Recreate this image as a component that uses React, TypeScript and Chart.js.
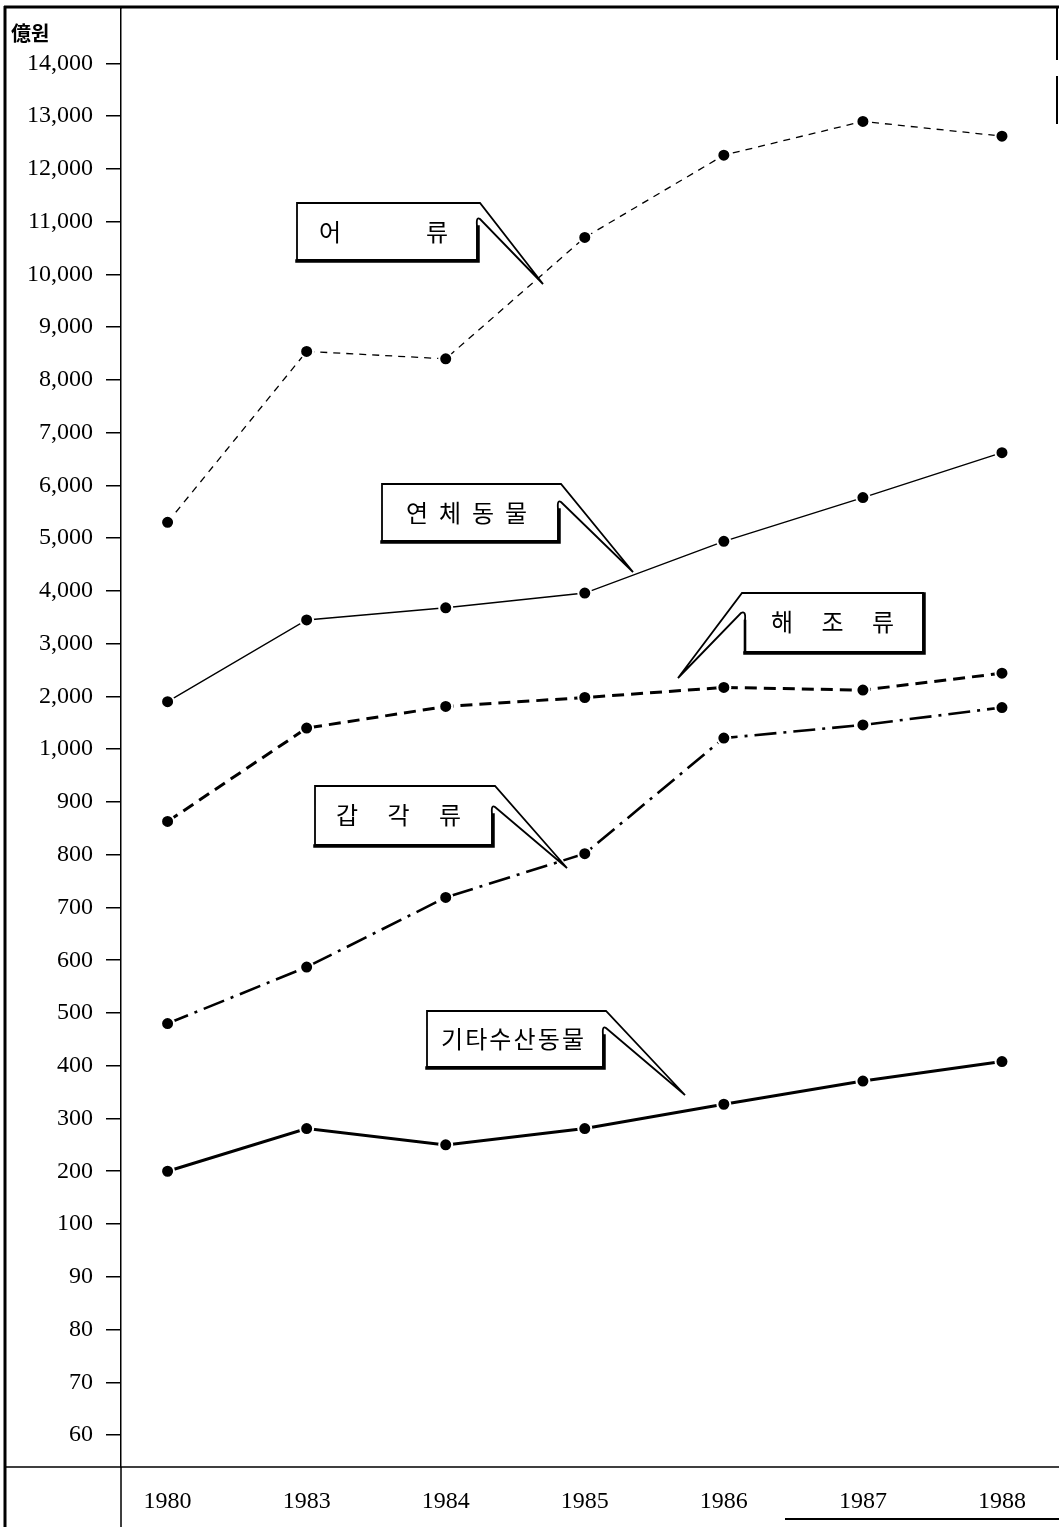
import React, { useEffect, useRef } from 'react';
import { Chart, registerables } from 'chart.js';

Chart.register(...registerables);

// ---- data ----
const years = ['1980', '1983', '1984', '1985', '1986', '1987', '1988'];

const yTickValues = [
  60, 70, 80, 90, 100, 200, 300, 400, 500, 600, 700, 800, 900,
  1000, 2000, 3000, 4000, 5000, 6000, 7000, 8000, 9000, 10000, 11000, 12000, 13000, 14000,
];
const yTickLabels = [
  '60', '70', '80', '90', '100', '200', '300', '400', '500', '600', '700', '800', '900',
  '1,000', '2,000', '3,000', '4,000', '5,000', '6,000', '7,000', '8,000', '9,000',
  '10,000', '11,000', '12,000', '13,000', '14,000',
];

// 億원
const fish = [5300, 8540, 8400, 10700, 12260, 12900, 12620]; // 어류
const mollusks = [1900, 3450, 3680, 3960, 4940, 5770, 6620]; // 연체동물
const seaweed = [863, 1400, 1810, 1980, 2170, 2120, 2440]; // 해조류
const crustaceans = [480, 587, 719, 802, 1210, 1460, 1790]; // 갑각류
const others = [200, 281, 250, 281, 327, 371, 408]; // 기타수산동물

const seriesNames = ['어류', '연체동물', '해조류', '갑각류', '기타수산동물'];
const unitLabel = '億원';

// ---- broken (piecewise) value axis: value -> tick index position ----
function toPos(v: number): number {
  const t = yTickValues;
  if (v <= t[0]) return (v - t[0]) / (t[1] - t[0]);
  for (let i = 0; i < t.length - 1; i++) {
    if (v >= t[i] && v <= t[i + 1]) return i + (v - t[i]) / (t[i + 1] - t[i]);
  }
  const n = t.length - 1;
  return n + (v - t[n]) / (t[n] - t[n - 1]);
}

// ---- callout annotations (layout, in canvas pixels) ----
type Callout = {
  chars: string[];
  firstX: number; lastX: number; textY: number;
  L: number; T: number; R: number; B: number;
  tip: [number, number]; inner: [number, number];
  side: 'left' | 'right';
};
const callouts: Callout[] = [
  { chars: ['어', '류'], firstX: 330, lastX: 437, textY: 232, L: 297, T: 203, R: 477, B: 260, tip: [543, 284], inner: [480, 219], side: 'right' },
  { chars: ['연', '체', '동', '물'], firstX: 417, lastX: 516, textY: 513, L: 382, T: 484, R: 558, B: 541, tip: [633, 572], inner: [561, 502], side: 'right' },
  { chars: ['해', '조', '류'], firstX: 782, lastX: 883, textY: 622, L: 745, T: 593, R: 923, B: 652, tip: [678, 678], inner: [741, 613], side: 'left' },
  { chars: ['갑', '각', '류'], firstX: 347, lastX: 450, textY: 815, L: 315, T: 786, R: 492, B: 845, tip: [567, 868], inner: [495, 807], side: 'right' },
  { chars: ['기', '타', '수', '산', '동', '물'], firstX: 452, lastX: 573, textY: 1039, L: 427, T: 1011, R: 603, B: 1067, tip: [685, 1095], inner: [606, 1028], side: 'right' },
];

function drawCallout(ctx: CanvasRenderingContext2D, c: Callout) {
  const { L, T, R, B, tip, inner, side } = c;
  ctx.save();
  ctx.strokeStyle = '#000';
  ctx.fillStyle = '#fff';
  ctx.lineJoin = 'miter';
  ctx.lineWidth = 1.8;
  ctx.beginPath();
  if (side === 'right') {
    ctx.moveTo(L, T);
    ctx.lineTo(R + 3, T);
    ctx.lineTo(tip[0], tip[1]);
    ctx.lineTo(inner[0], inner[1]);
    ctx.quadraticCurveTo(R - 1, inner[1] - 3, R, inner[1] + 7);
    ctx.lineTo(R, B);
    ctx.lineTo(L, B);
    ctx.closePath();
  } else {
    ctx.moveTo(R, T);
    ctx.lineTo(L - 3, T);
    ctx.lineTo(tip[0], tip[1]);
    ctx.lineTo(inner[0], inner[1]);
    ctx.quadraticCurveTo(L + 1, inner[1] - 3, L, inner[1] + 7);
    ctx.lineTo(L, B);
    ctx.lineTo(R, B);
    ctx.closePath();
  }
  ctx.fill();
  ctx.stroke();
  // shadow edges (thick right & bottom)
  ctx.lineWidth = 3.5;
  ctx.lineCap = 'square';
  ctx.beginPath();
  if (side === 'right') {
    ctx.moveTo(R + 1, inner[1] + 8);
    ctx.lineTo(R + 1, B + 1);
  } else {
    ctx.moveTo(R + 1, T + 1);
    ctx.lineTo(R + 1, B + 1);
  }
  ctx.lineTo(L, B + 1);
  ctx.stroke();
  if (side === 'left') {
    ctx.lineWidth = 2.6;
    ctx.beginPath();
    ctx.moveTo(L, inner[1] + 8);
    ctx.lineTo(L, B);
    ctx.stroke();
  }
  // text
  ctx.fillStyle = '#000';
  ctx.font = '24px "Noto Sans CJK KR"';
  ctx.textAlign = 'center';
  ctx.textBaseline = 'middle';
  const n = c.chars.length;
  c.chars.forEach((ch, i) => {
    const x = n === 1 ? c.firstX : c.firstX + ((c.lastX - c.firstX) * i) / (n - 1);
    ctx.fillText(ch, x, c.textY);
  });
  ctx.restore();
}

const decorPlugin = {
  id: 'decor',
  afterDraw(chart: any) {
    const ctx: CanvasRenderingContext2D = chart.ctx;
    const W = chart.width;
    const H = chart.height;
    const area = chart.chartArea;
    ctx.save();
    ctx.strokeStyle = '#000';
    ctx.lineCap = 'butt';
    // frame
    ctx.lineWidth = 3;
    ctx.beginPath();
    ctx.moveTo(5, 6);
    ctx.lineTo(5, H);
    ctx.moveTo(4, 7);
    ctx.lineTo(W, 7);
    ctx.stroke();
    ctx.lineWidth = 2;
    ctx.beginPath();
    ctx.moveTo(W - 2, 7);
    ctx.lineTo(W - 2, 60);
    ctx.moveTo(W - 2, 76);
    ctx.lineTo(W - 2, 124);
    ctx.moveTo(785, H - 8);
    ctx.lineTo(W, H - 8);
    ctx.stroke();
    // horizontal baseline across whole width
    ctx.lineWidth = 1.5;
    ctx.beginPath();
    ctx.moveTo(5, area.bottom);
    ctx.lineTo(W, area.bottom);
    // value axis continuing from frame top and below baseline
    ctx.moveTo(area.left, 7);
    ctx.lineTo(area.left, area.top);
    ctx.moveTo(area.left, area.bottom);
    ctx.lineTo(area.left, H);
    ctx.stroke();
    // unit label
    ctx.fillStyle = '#000';
    ctx.font = 'bold 20px "Noto Sans CJK KR"';
    ctx.textAlign = 'left';
    ctx.textBaseline = 'middle';
    ctx.fillText(unitLabel, 11, 33);
    ctx.restore();
    callouts.forEach((c) => drawCallout(ctx, c));
  },
};

function series(values: number[]) {
  return values.map((v, i) => ({ x: i, y: toPos(v) }));
}

export default function App() {
  const ref = useRef<HTMLCanvasElement | null>(null);

  useEffect(() => {
    if (!ref.current) return;
    const common = {
      borderColor: '#000',
      pointBackgroundColor: '#000',
      pointBorderColor: '#fff',
      pointBorderWidth: 2,
      pointRadius: 6.5,
      tension: 0,
      fill: false,
    };
    const chart = new Chart(ref.current, {
      type: 'line',
      data: {
        datasets: [
          { ...common, label: seriesNames[0], data: series(fish), borderWidth: 1.3, borderDash: [7, 6] },
          { ...common, label: seriesNames[1], data: series(mollusks), borderWidth: 1.4 },
          { ...common, label: seriesNames[2], data: series(seaweed), borderWidth: 3, borderDash: [12, 7] },
          { ...common, label: seriesNames[3], data: series(crustaceans), borderWidth: 2.6, borderDash: [22, 7, 3, 7] },
          { ...common, label: seriesNames[4], data: series(others), borderWidth: 3 },
        ],
      },
      options: {
        animation: false,
        responsive: false,
        devicePixelRatio: 1,
        layout: { padding: { top: 7, left: 0, right: 0, bottom: 0 } },
        plugins: {
          legend: { display: false },
          tooltip: { enabled: false },
        },
        scales: {
          x: {
            type: 'linear',
            min: -0.335,
            max: 6.349,
            afterFit: (s: any) => { s.height = 60; s.paddingLeft = 0; s.paddingRight = 0; },
            afterBuildTicks: (s: any) => { s.ticks = years.map((_, i) => ({ value: i })); },
            grid: { display: false },
            border: { display: false },
            ticks: {
              padding: 12,
              color: '#000',
              font: { family: '"Liberation Serif", "DejaVu Serif", serif', size: 24 },
              callback: (v: any) => years[Math.round(Number(v))] ?? '',
              maxRotation: 0,
              autoSkip: false,
            },
          },
          y: {
            type: 'linear',
            min: -0.606,
            max: 27.04,
            afterFit: (s: any) => { s.width = 121; s.paddingTop = 0; s.paddingBottom = 0; },
            afterBuildTicks: (s: any) => { s.ticks = yTickValues.map((_, i) => ({ value: i })); },
            grid: { drawOnChartArea: false, drawTicks: true, tickLength: 15, color: '#000', lineWidth: 1.5 },
            border: { display: true, color: '#000', width: 1.5 },
            ticks: {
              padding: 13,
              color: '#000',
              font: { family: '"Liberation Serif", "DejaVu Serif", serif', size: 24 },
              callback: (v: any) => yTickLabels[Math.round(Number(v))] ?? '',
              autoSkip: false,
            },
          },
        },
      },
      plugins: [decorPlugin],
    } as any);
    return () => chart.destroy();
  }, []);

  return (
    <div style={{ position: 'absolute', left: 0, top: 0, width: 1059, height: 1527, background: '#fff' }}>
      <canvas ref={ref} width={1059} height={1527} style={{ display: 'block', width: 1059, height: 1527 }} />
    </div>
  );
}
